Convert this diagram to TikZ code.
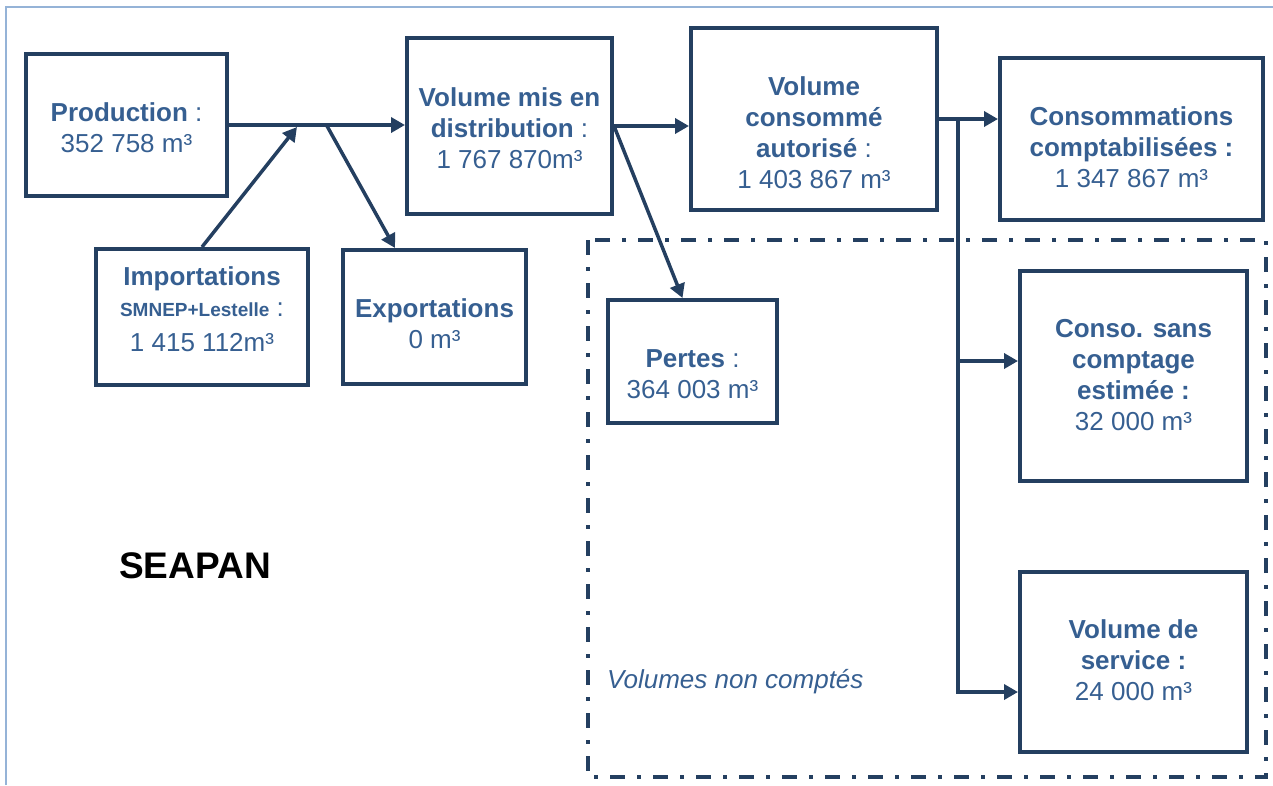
\documentclass[tikz,border=0pt]{standalone}
\usepackage{fontspec}
\setmainfont{Liberation Sans}
\usetikzlibrary{arrows.meta,positioning}
\definecolor{bleufonce}{HTML}{243F60}
\definecolor{bleutexte}{HTML}{365F91}
\definecolor{bleuclair}{HTML}{95B3D7}

\begin{document}
\begin{tikzpicture}[x=1pt,y=-1pt,
    boite/.style={draw=bleufonce,line width=4pt,rectangle,inner sep=0pt},
    fleche/.style={draw=bleufonce,line width=3.5pt,-{Triangle[length=14pt,width=15pt]}},
    texte/.style={text=bleutexte,font=\fontsize{26}{31}\selectfont,align=center,inner sep=0pt},
    nonvu/.style={draw=bleufonce,line width=4pt,dash pattern=on 15pt off 12pt on 4pt off 12pt}]
        \useasboundingbox (0,0) rectangle (1273,785);
        \draw[bleuclair,line width=1.5pt] (6,785) -- (6,7) -- (1273,7);
        \draw[nonvu] (588,240) rectangle (1266,777);
        % boites
        \node[boite,minimum width=201pt,minimum height=142pt] (prod) at (126.5,125) {};
        \node[boite,minimum width=212pt,minimum height=136pt] (imp) at (202,317) {};
        \node[boite,minimum width=183pt,minimum height=134pt] (exp) at (434.5,317) {};
        \node[boite,minimum width=205pt,minimum height=176pt] (vmd) at (509.5,126) {};
        \node[boite,minimum width=246pt,minimum height=182pt] (vca) at (814,119) {};
        \node[boite,minimum width=263pt,minimum height=162pt] (cc) at (1131.5,139) {};
        \node[boite,minimum width=169pt,minimum height=123pt] (pertes) at (692.5,361.5) {};
        \node[boite,minimum width=227pt,minimum height=210pt] (csc) at (1133.5,376) {};
        \node[boite,minimum width=227pt,minimum height=180pt] (vds) at (1133.5,662) {};
        % fleches
        \coordinate (jimp) at (297,127);
        \coordinate (jexp) at (327,126);
        \coordinate (bras) at (958,119);
        \draw[fleche] (prod.east) -- (prod.east -| vmd.west);
        \draw[fleche] (imp.north) -- (jimp);
        \draw[fleche] (jexp) -- ([xshift=54pt]exp.north west);
        \draw[fleche] (vmd.east) -- (vmd.east -| vca.west);
        \draw[fleche] (vmd.east) -- ([xshift=-10pt]pertes.north);
        \draw[fleche] (vca.east |- bras) -- (bras -| cc.west);
        \draw[fleche] (bras) |- ([yshift=15pt]csc.west);
        \draw[fleche] (bras) |- ([yshift=-30pt]vds.west);
        % textes
        \node[texte] (prod-t) at (126.5,128) {\textbf{Production} :\\352 758 m³};
        \node[texte] (imp-t) at (202,309.5) {\textbf{Importations}\\{\fontsize{19}{23}\selectfont\textbf{SMNEP+Lestelle}} :\\[4pt]1 415 112m³};
        \node[texte] (exp-t) at (434.5,324) {\textbf{Exportations}\\0 m³};
        \node[texte] (vmd-t) at (509.5,128) {\textbf{Volume mis en}\\\textbf{distribution} :\\1 767 870m³};
        \node[texte] (vca-t) at (814,132.5) {\textbf{Volume}\\\textbf{consommé}\\\textbf{autorisé} :\\1 403 867 m³};
        \node[texte] (cc-t) at (1131.5,147) {\textbf{Consommations}\\\textbf{comptabilisées :}\\1 347 867 m³};
        \node[texte] (pertes-t) at (692.5,374) {\textbf{Pertes} :\\364 003 m³};
        \node[texte] (csc-t) at (1133.5,375) {\textbf{Conso. sans}\\\textbf{comptage}\\\textbf{estimée :}\\32 000 m³};
        \node[texte] (vds-t) at (1133.5,660) {\textbf{Volume de}\\\textbf{service :}\\24 000 m³};
        \node[font=\fontsize{37}{44}\selectfont\bfseries,anchor=base,inner sep=0pt] (seapan) at (195,578) {SEAPAN};
        \node[texte,font=\fontsize{26}{31}\selectfont\itshape,anchor=base west] (nc) at (607,688) {Volumes non comptés};
\end{tikzpicture}
\end{document}
